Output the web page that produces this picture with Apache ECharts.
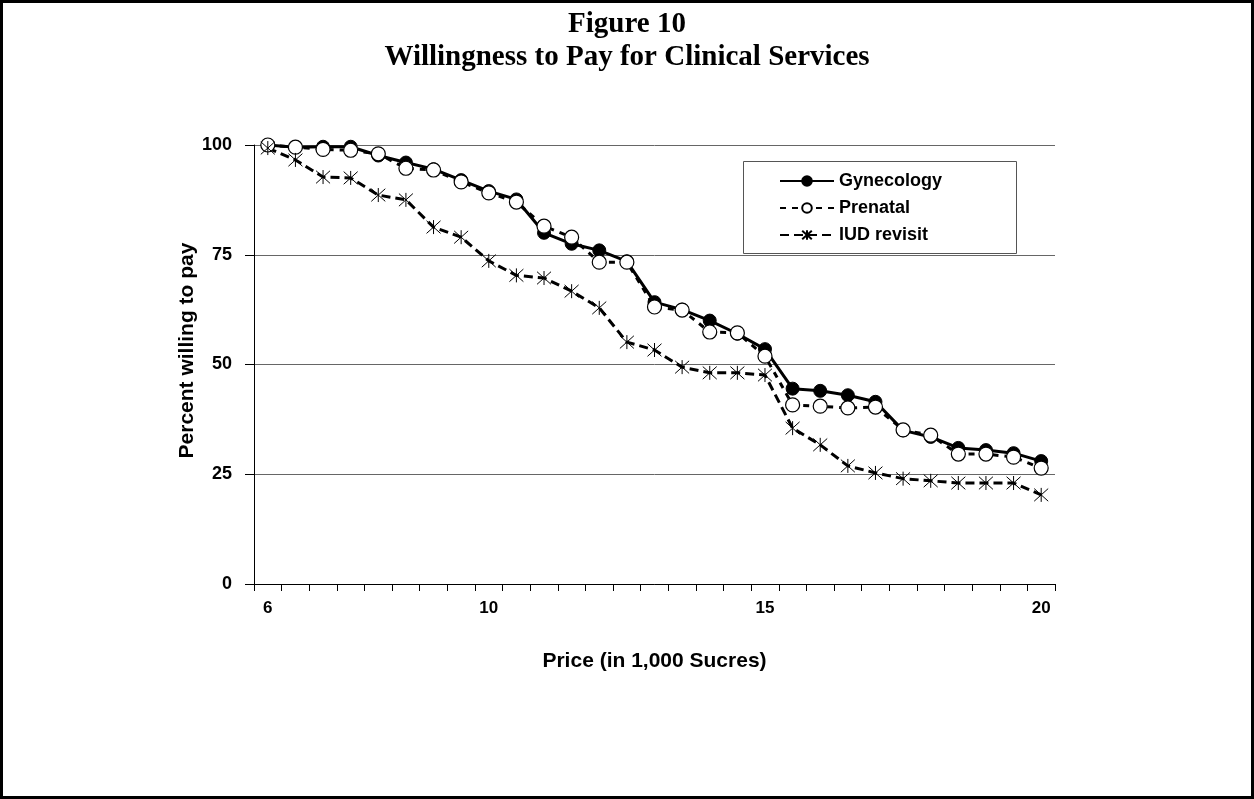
<!DOCTYPE html>
<html>
<head>
<meta charset="utf-8">
<script src="https://cdn.jsdelivr.net/npm/echarts@6/dist/echarts.min.js"></script>
<style>
  html, body { margin: 0; padding: 0; background: #fff; }
  #chart { width: 1254px; height: 799px; }
</style>
</head>
<body>
<div id="chart"></div>
<script>
// price categories (in 1,000 Sucres)
var prices = ['6', '6.5', '7', '7.5', '8', '8.5', '9', '9.5', '10', '10.5', '11', '11.5', '12', '12.5',
  '13', '13.5', '14', '14.5', '15', '15.5', '16', '16.5', '17', '17.5', '18', '18.5', '19', '19.5', '20']
var shownLabels = ['6', '10', '15', '20'] // only these are labelled on the x axis
var yTicks = [0, 25, 50, 75, 100]

var gynecology = [100, 99.5, 99.6, 99.6, 97.6, 96, 94.5, 92, 89.5, 87.6, 80, 77.5, 76, 73.5, 64.2, 62.5,
  60, 57, 53.5, 44.5, 44, 43, 41.5, 35, 33.5, 31, 30.5, 29.8, 28]
var prenatal = [100, 99.5, 99, 98.8, 98, 94.7, 94.3, 91.6, 89.1, 87, 81.5, 79, 73.3, 73.3, 63.1, 62.4,
  57.4, 57.2, 51.9, 40.8, 40.5, 40.1, 40.3, 35.1, 33.9, 29.6, 29.6, 28.9, 26.4]
var iudRevisit = [99.3, 96.6, 92.7, 92.5, 88.6, 87.5, 81.3, 79, 73.6, 70.3, 69.7, 66.7, 62.9, 55.1, 53.3, 49.4,
  48.1, 48.1, 47.6, 35.5, 31.7, 26.9, 25.3, 24, 23.5, 23, 23, 23, 20.3]

var sans = 'Liberation Sans, Arial, sans-serif'
var starPath = 'path://M0 1L20 19M20 1L0 19M10 0L10 20' // 星形标记（X 加竖线）

var chart = echarts.init(document.getElementById('chart'))
var option = {
  backgroundColor: '#fff',
  animation: false,
  title: {
    text: 'Figure 10\nWillingness to Pay for Clinical Services',
    left: 'center',
    top: 3,
    textStyle: {
      fontFamily: 'Liberation Serif, Times New Roman, serif',
      fontWeight: 'bold',
      fontSize: 29,
      lineHeight: 33,
      color: '#000'
    }
  },
  graphic: [
    { // outer frame
      type: 'rect',
      shape: { x: 1.5, y: 1.5, width: 1251, height: 796 },
      style: { fill: 'none', stroke: '#000', lineWidth: 3 },
      silent: true
    },
    { // legend box
      type: 'rect',
      shape: { x: 743.5, y: 161.5, width: 273, height: 92 },
      style: { fill: '#fff', stroke: '#555', lineWidth: 1 },
      z: 5,
      silent: true
    }
  ],
  legend: {
    left: 779,
    top: 171,
    padding: 0,
    orient: 'vertical',
    itemWidth: 54,
    itemHeight: 12,
    itemGap: 7,
    z: 10,
    textStyle: {
      fontFamily: sans,
      fontWeight: 'bold',
      fontSize: 18,
      lineHeight: 20,
      color: '#000'
    },
    data: ['Gynecology', 'Prenatal', 'IUD revisit']
  },
  grid: {
    left: 254,
    right: 199,
    top: 145,
    bottom: 215
  },
  xAxis: {
    type: 'category',
    data: prices,
    boundaryGap: true,
    name: 'Price (in 1,000 Sucres)',
    nameLocation: 'middle',
    nameGap: 67,
    nameTextStyle: { fontFamily: sans, fontWeight: 'bold', fontSize: 21, color: '#000' },
    axisLine: { show: true, lineStyle: { color: '#000', width: 1 } },
    axisTick: { show: true, interval: 0, length: 7, lineStyle: { color: '#000', width: 1 } },
    axisLabel: {
      interval: function (idx, val) { return shownLabels.indexOf(val) >= 0 },
      margin: 16,
      fontFamily: sans,
      fontWeight: 'bold',
      fontSize: 17,
      color: '#000'
    },
    splitLine: { show: false }
  },
  yAxis: {
    type: 'value',
    min: yTicks[0],
    max: yTicks[yTicks.length - 1],
    interval: 25,
    name: 'Percent willing to pay',
    nameLocation: 'middle',
    nameGap: 56,
    nameMoveOverlap: false,
    nameTextStyle: { fontFamily: sans, fontWeight: 'bold', fontSize: 21, color: '#000', padding: [0, 0, 0, 28] },
    axisLine: { show: true, lineStyle: { color: '#000', width: 1 } },
    axisTick: { show: true, length: 9, lineStyle: { color: '#000' } },
    axisLabel: {
      margin: 22,
      fontFamily: sans,
      fontWeight: 'bold',
      fontSize: 18,
      color: '#000'
    },
    splitLine: { show: true, lineStyle: { color: '#666', width: 1 } }
  },
  series: [
    {
      name: 'Gynecology',
      type: 'line',
      data: gynecology,
      symbol: 'circle',
      symbolSize: 13,
      lineStyle: { color: '#000', width: 3, type: 'solid' },
      itemStyle: { color: '#000', borderColor: '#000', borderWidth: 1 }
    },
    {
      name: 'Prenatal',
      type: 'line',
      data: prenatal,
      symbol: 'circle',
      symbolSize: 14,
      lineStyle: { color: '#000', width: 3, type: [6, 6] },
      itemStyle: { color: '#fff', borderColor: '#000', borderWidth: 1.2 }
    },
    {
      name: 'IUD revisit',
      type: 'line',
      data: iudRevisit,
      symbol: starPath,
      symbolSize: 14,
      lineStyle: { color: '#000', width: 3, type: [9, 5] },
      itemStyle: { color: '#000', borderColor: '#000', borderWidth: 1 }
    }
  ]
}
chart.setOption(option)
</script>
</body>
</html>
